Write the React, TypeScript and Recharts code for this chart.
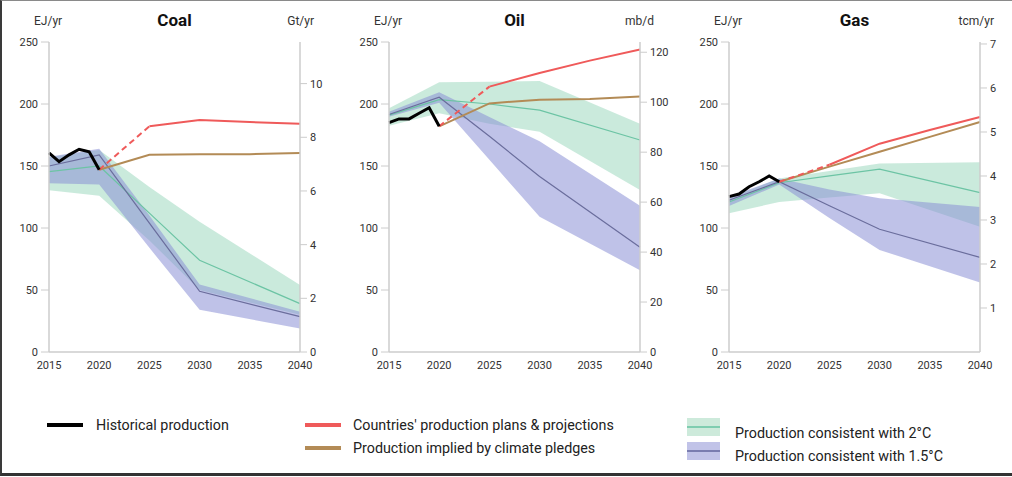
import React from "react";
import { ComposedChart, Line, Area, XAxis, YAxis } from "recharts";

// ---------- shared axes ----------
const YEAR_TICKS = [2015, 2020, 2025, 2030, 2035, 2040];
const EJ_TICKS = [0, 50, 100, 150, 200, 250];
const HIST_YEARS = [2015, 2016, 2017, 2018, 2019, 2020];
const PROJ_YEARS = [2020, 2025, 2030, 2035, 2040];
const BAND_YEARS = [2015, 2020, 2025, 2030, 2040];

// ---------- coal (EJ/yr) ----------
const coalHist = [160.5, 153.5, 159, 163.5, 161.5, 147];
const coalPlans = [147, 182, 187, 185.5, 184];
const coalPledges = [147, 159, 159.5, 159.5, 160.5];
const coal2Mid = [145.5, 150, 112, 74, 39];
const coal2Low = [130.5, 126, 90, 50, 30];
const coal2High = [157, 163, 133, 105, 54];
const coal15Mid = [150, 159, 104, 49, 28.5];
const coal15Low = [136, 135, 84, 34, 19];
const coal15High = [157.5, 164, 110, 54.5, 32.5];
const coalRightTicks = [0, 2, 4, 6, 8, 10];

// ---------- oil (EJ/yr) ----------
const oilHist = [185, 188, 188, 192.5, 197, 182];
const oilPlans = [182, 214, 225, 235, 244];
const oilPledges = [182, 200.5, 203.5, 204, 206];
const oil2Mid = [191, 203.5, 200, 195, 171];
const oil2Low = [182.5, 192.5, 184, 177.7, 130.6];
const oil2High = [196.5, 217.5, 218, 218.5, 184];
const oil15Mid = [191.5, 205.5, 174, 141.5, 84.5];
const oil15Low = [189.8, 201, 155, 109, 66];
const oil15High = [193.8, 209.5, 189.5, 170, 118];
const oilRightTicks = [0, 20, 40, 60, 80, 100, 120];

// ---------- gas (EJ/yr) ----------
const gasHist = [125.3, 127.4, 133.3, 137.3, 141.9, 137.3];
const gasPlans = [137.3, 151, 168, 179, 189.5];
const gasPledges = [137.3, 149.5, 161.5, 173.5, 185.5];
const gas2Mid = [121, 136.5, 142, 147.5, 128.5];
const gas2Low = [111.8, 121, 124.5, 128, 101];
const gas2High = [124, 140, 146, 152, 153];
const gas15Mid = [122.4, 137.3, 118, 99, 76.3];
const gas15Low = [117.7, 135, 108, 82.3, 56];
const gas15High = [125.3, 140, 131, 124, 117];
const gasRightTicks = [1, 2, 3, 4, 5, 6, 7];

const C = {
  hist: "#000000",
  plans: "#ef5a5a",
  pledges: "#b38b56",
  g2Fill: "#9fd8bf",
  g2Line: "#6cc4a4",
  g15Fill: "#8b8fd6",
  g15Line: "#6a6d9c",
  axis: "#cccccc",
  text: "#333333",
};

const FONT = "Roboto, 'Noto Sans', Arial, sans-serif";

type Fuel = {
  hist: number[];
  plans: number[];
  pledges: number[];
  m2: number[];
  l2: number[];
  h2: number[];
  m15: number[];
  l15: number[];
  h15: number[];
};

function buildRows(f: Fuel) {
  const map = new Map<number, any>();
  const get = (y: number) => {
    if (!map.has(y)) map.set(y, { year: y });
    return map.get(y);
  };
  HIST_YEARS.forEach((y, i) => (get(y).hist = f.hist[i]));
  PROJ_YEARS.forEach((y, i) => {
    if (i <= 1) get(y).plansDash = f.plans[i];
    if (i >= 1) get(y).plans = f.plans[i];
    get(y).pledges = f.pledges[i];
  });
  BAND_YEARS.forEach((y, i) => {
    const r = get(y);
    r.c2 = [f.l2[i], f.h2[i]];
    r.c2m = f.m2[i];
    r.c15 = [f.l15[i], f.h15[i]];
    r.c15m = f.m15[i];
  });
  return Array.from(map.values()).sort((a, b) => a.year - b.year);
}

const coalRows = buildRows({
  hist: coalHist, plans: coalPlans, pledges: coalPledges,
  m2: coal2Mid, l2: coal2Low, h2: coal2High,
  m15: coal15Mid, l15: coal15Low, h15: coal15High,
});
const oilRows = buildRows({
  hist: oilHist, plans: oilPlans, pledges: oilPledges,
  m2: oil2Mid, l2: oil2Low, h2: oil2High,
  m15: oil15Mid, l15: oil15Low, h15: oil15High,
});
const gasRows = buildRows({
  hist: gasHist, plans: gasPlans, pledges: gasPledges,
  m2: gas2Mid, l2: gas2Low, h2: gas2High,
  m15: gas15Mid, l15: gas15Low, h15: gas15High,
});

type PanelProps = {
  left: number;
  width: number;
  rightWidth: number;
  title: string;
  rightUnit: string;
  rows: any[];
  rightMax: number;
  rightTicks: number[];
};

const tickStyle = { fill: C.text, fontSize: 11, fontFamily: FONT };

function Panel({ left, width, rightWidth, title, rightUnit, rows, rightMax, rightTicks }: PanelProps) {
  const plotLeft = 49;
  const plotRight = width - rightWidth;
  const center = (plotLeft + plotRight) / 2;
  return (
    <div style={{ position: "absolute", left, top: 0, width, height: 390 }}>
      <div
        style={{
          position: "absolute", left: center - 60, width: 120, top: 10,
          textAlign: "center", fontFamily: FONT, fontWeight: 700, fontSize: 17, color: "#111",
        }}
      >
        {title}
      </div>
      <div style={{ position: "absolute", left: 34, top: 14, fontFamily: FONT, fontSize: 12, color: C.text }}>
        EJ/yr
      </div>
      <div
        style={{
          position: "absolute", right: width - (plotRight + 14), top: 14,
          fontFamily: FONT, fontSize: 12, color: C.text, whiteSpace: "nowrap",
        }}
      >
        {rightUnit}
      </div>
      <div style={{ position: "absolute", left: 0, top: 0 }}>
        <ComposedChart width={width} height={382} data={rows} margin={{ top: 42, right: 0, bottom: 0, left: 0 }}>
          <XAxis
            dataKey="year"
            type="number"
            domain={[2015, 2040]}
            ticks={YEAR_TICKS}
            interval={0}
            height={30}
            tickSize={0}
            tickMargin={9}
            tickLine={false}
            axisLine={{ stroke: C.axis, strokeWidth: 1.5 }}
            tick={tickStyle}
          />
          <YAxis
            yAxisId="l"
            domain={[0, 250]}
            ticks={EJ_TICKS}
            interval={0}
            width={49}
            tickSize={8}
            tickMargin={3}
            axisLine={{ stroke: C.axis, strokeWidth: 1.5 }}
            tickLine={{ stroke: C.axis }}
            tick={tickStyle}
          />
          <YAxis
            yAxisId="r"
            orientation="right"
            domain={[0, rightMax]}
            allowDataOverflow
            ticks={rightTicks}
            interval={0}
            width={rightWidth}
            tickSize={7}
            tickMargin={3}
            axisLine={{ stroke: C.axis, strokeWidth: 1.5 }}
            tickLine={{ stroke: C.axis }}
            tick={tickStyle}
          />
          <Area yAxisId="l" dataKey="c2" fill={C.g2Fill} fillOpacity={0.55} stroke="none" connectNulls isAnimationActive={false} activeDot={false} />
          <Area yAxisId="l" dataKey="c15" fill={C.g15Fill} fillOpacity={0.55} stroke="none" connectNulls isAnimationActive={false} activeDot={false} />
          <Line yAxisId="l" dataKey="c2m" stroke={C.g2Line} strokeWidth={1.2} dot={false} activeDot={false} connectNulls isAnimationActive={false} />
          <Line yAxisId="l" dataKey="c15m" stroke={C.g15Line} strokeWidth={1.2} dot={false} activeDot={false} connectNulls isAnimationActive={false} />
          <Line yAxisId="l" dataKey="pledges" stroke={C.pledges} strokeWidth={2} dot={false} activeDot={false} connectNulls isAnimationActive={false} />
          <Line yAxisId="l" dataKey="plansDash" stroke={C.plans} strokeWidth={2} strokeDasharray="6 4" dot={false} activeDot={false} connectNulls isAnimationActive={false} />
          <Line yAxisId="l" dataKey="plans" stroke={C.plans} strokeWidth={2} dot={false} activeDot={false} connectNulls isAnimationActive={false} />
          <Line yAxisId="l" dataKey="hist" stroke={C.hist} strokeWidth={3} strokeLinejoin="miter" dot={false} activeDot={false} connectNulls isAnimationActive={false} />
        </ComposedChart>
      </div>
    </div>
  );
}

const legendText: React.CSSProperties = {
  position: "absolute", fontFamily: FONT, fontSize: 14.3, color: "#222", whiteSpace: "nowrap",
  lineHeight: "16px",
};

function LineSwatch({ x, y, color }: { x: number; y: number; color: string }) {
  return <div style={{ position: "absolute", left: x, top: y - 2, width: 36, height: 4, background: color }} />;
}

function BandSwatch({ x, y, fill, line }: { x: number; y: number; fill: string; line: string }) {
  return (
    <div style={{ position: "absolute", left: x, top: y, width: 33, height: 18, background: fill }}>
      <div style={{ position: "absolute", left: 0, top: 8, width: 33, height: 2, background: line }} />
    </div>
  );
}

export default function App() {
  return (
    <div style={{ position: "absolute", left: 0, top: 0, width: 1012, height: 477, background: "#fff", overflow: "hidden" }}>
      <div
        style={{
          position: "absolute", left: 0, top: 0, width: 1012, height: 476, boxSizing: "border-box",
          borderLeft: "2px solid #3a3a3a", borderTop: "1px solid #8a8a8a", borderBottom: "3px solid #333",
        }}
      />
      <Panel left={0} width={340} rightWidth={40} title="Coal" rightUnit="Gt/yr" rows={coalRows} rightMax={11.55} rightTicks={coalRightTicks} />
      <Panel left={340} width={340} rightWidth={40} title="Oil" rightUnit="mb/d" rows={oilRows} rightMax={124.1} rightTicks={oilRightTicks} />
      <Panel left={680} width={332} rightWidth={32} title="Gas" rightUnit="tcm/yr" rows={gasRows} rightMax={7.045} rightTicks={gasRightTicks} />

      <LineSwatch x={47} y={425} color={C.hist} />
      <div style={{ ...legendText, left: 96, top: 417 }}>Historical production</div>

      <LineSwatch x={305} y={425} color={C.plans} />
      <div style={{ ...legendText, left: 353, top: 417 }}>Countries' production plans &amp; projections</div>

      <LineSwatch x={305} y={448} color={C.pledges} />
      <div style={{ ...legendText, left: 353, top: 440 }}>Production implied by climate pledges</div>

      <BandSwatch x={687} y={418} fill="#cdeadb" line="#7fcdb0" />
      <div style={{ ...legendText, left: 735, top: 425 }}>Production consistent with 2°C</div>

      <BandSwatch x={687} y={442} fill="#c1c3e8" line="#7a7db0" />
      <div style={{ ...legendText, left: 735, top: 448 }}>Production consistent with 1.5°C</div>
    </div>
  );
}
